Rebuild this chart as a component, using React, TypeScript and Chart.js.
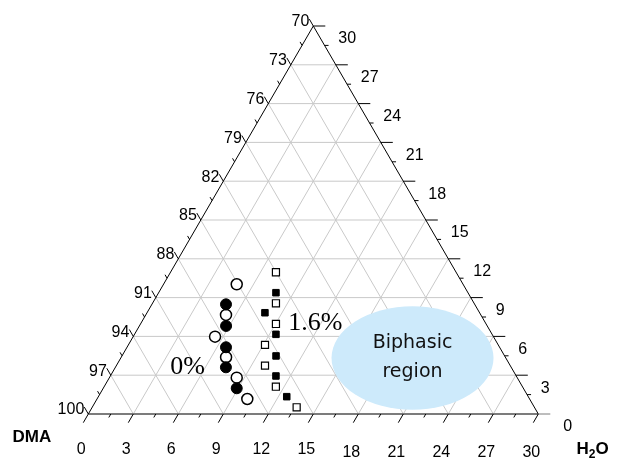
import { useEffect, useRef } from "react";
import { Chart, registerables } from "chart.js";

Chart.register(...registerables);

// Ternary axes: H2O along the bottom, DMA on the left edge, third component on the right edge
const h2oTicks = [0, 3, 6, 9, 12, 15, 18, 21, 24, 27, 30];
const dmaTicks = [100, 97, 94, 91, 88, 85, 82, 79, 76, 73, 70];
const rightTicks = [0, 3, 6, 9, 12, 15, 18, 21, 24, 27, 30];

// 0% series (circles): H2O (bottom) and right-axis component values
const zeroFilledH = [4.94, 5.78, 6.6, 7.37, 8.9];
const zeroFilledT = [8.48, 6.81, 5.16, 3.61, 1.99];
const zeroOpenH = [4.88, 5.35, 5.46, 6.99, 8.49, 10.02];
const zeroOpenT = [10.03, 7.66, 5.98, 4.39, 2.81, 1.16];

// 1.6% series (squares)
const pctFilledH = [7.82, 7.86, 9.43, 10.27, 11.04, 12.56];
const pctFilledT = [9.38, 7.83, 6.16, 4.49, 2.94, 1.34];
const pctOpenH = [7.03, 8.23, 9.03, 9.11, 9.91, 11.45, 13.63];
const pctOpenT = [10.96, 8.56, 6.96, 5.34, 3.74, 2.11, 0.52];

// annotations (in H2O / right-axis units)
const zeroLabel = { text: "0%", h: 4.81, t: 3.63 };
const pctLabel = { text: "1.6%", h: 11.62, t: 7.04 };
const biphasic = { lines: ["Biphasic", "region"], h: 19.45, t: 4.33, rh: 5.4, rt: 4.0 };

const toXY = (hs: number[], ts: number[]) =>
  hs.map((h, i) => ({ x: h + ts[i] / 2, y: ts[i] }));

const ternaryPlugin = {
  id: "ternary",
  beforeDatasetsDraw(chart: any) {
    const { ctx } = chart;
    const xs = chart.scales.x;
    const ys = chart.scales.y;
    const P = (h: number, t: number) => [xs.getPixelForValue(h + t / 2), ys.getPixelForValue(t)];
    const line = (a: number[], b: number[]) => {
      ctx.beginPath();
      ctx.moveTo(a[0], a[1]);
      ctx.lineTo(b[0], b[1]);
      ctx.stroke();
    };
    ctx.save();
    // grid
    ctx.strokeStyle = "#c9c9c9";
    ctx.lineWidth = 1;
    for (const v of h2oTicks) {
      if (v === 0 || v === 30) continue;
      line(P(0, v), P(30 - v, v));
      line(P(v, 0), P(v, 30 - v));
      line(P(v, 0), P(0, v));
    }
    // biphasic region
    const c = P(biphasic.h, biphasic.t);
    const rx = xs.getPixelForValue(biphasic.rh) - xs.getPixelForValue(0);
    const ry = ys.getPixelForValue(0) - ys.getPixelForValue(biphasic.rt);
    ctx.fillStyle = "#cdeafb";
    ctx.beginPath();
    ctx.ellipse(c[0], c[1], rx, ry, 0, 0, Math.PI * 2);
    ctx.fill();
    ctx.fillStyle = "#111";
    ctx.font = '19px "Comic Sans MS", "DejaVu Sans", sans-serif';
    ctx.textAlign = "center";
    ctx.textBaseline = "middle";
    ctx.fillText(biphasic.lines[0], c[0], c[1] - 15);
    ctx.fillText(biphasic.lines[1], c[0], c[1] + 14);

    // edges
    ctx.strokeStyle = "#7c7c7c";
    ctx.lineWidth = 2;
    line(P(0, 0), P(30, 0));
    ctx.strokeStyle = "#000";
    ctx.lineWidth = 1;
    line(P(0, 0), P(0, 30));
    line(P(30, 0), P(0, 30));

    // ticks
    const dl = [-0.5, 0.866];
    const ul = [-0.5, -0.866];
    for (let k = 0; k <= 20; k++) {
      const v = k * 1.5;
      const major = k % 2 === 0;
      const len = major ? 10 : 4;
      // bottom
      let b = P(v, 0);
      ctx.strokeStyle = "#000";
      line(b, [b[0] + dl[0] * len, b[1] + dl[1] * len]);
      // left
      b = P(0, v);
      line(b, [b[0] + ul[0] * (major ? 8 : 4), b[1] + ul[1] * (major ? 8 : 4)]);
      // right
      b = P(30 - v, v);
      if (v === 0) ctx.strokeStyle = "#7c7c7c";
      line(b, [b[0] + (major ? 12 : 4), b[1]]);
    }

    // tick labels
    ctx.fillStyle = "#000";
    ctx.font = '16px "Liberation Sans", Arial, sans-serif';
    ctx.textBaseline = "middle";
    ctx.textAlign = "center";
    h2oTicks.forEach((v) => {
      const b = P(v, 0);
      ctx.fillText(String(v), b[0] - 7, b[1] + 36 + (v >= 18 ? 2.5 : 0));
    });
    ctx.textAlign = "right";
    dmaTicks.forEach((d) => {
      const b = P(0, 100 - d);
      ctx.fillText(String(d), b[0] - 4, b[1] - 4);
    });
    ctx.textAlign = "left";
    rightTicks.forEach((t) => {
      const b = P(30 - t, t);
      ctx.fillText(String(t), b[0] + 25, b[1] + 13);
    });

    // axis titles
    ctx.font = 'bold 17px "Liberation Sans", Arial, sans-serif';
    ctx.textAlign = "left";
    ctx.fillText("DMA", 12.5, 437.5);
    ctx.fillText("H", 576.5, 449);
    const hw = ctx.measureText("H").width;
    ctx.font = 'bold 12px "Liberation Sans", Arial, sans-serif';
    ctx.fillText("2", 576.5 + hw, 455);
    const sw = ctx.measureText("2").width;
    ctx.font = 'bold 17px "Liberation Sans", Arial, sans-serif';
    ctx.fillText("O", 576.5 + hw + sw, 449);

    // series annotations
    ctx.font = '26px "Liberation Serif", "Times New Roman", serif';
    ctx.textAlign = "center";
    let p = P(zeroLabel.h, zeroLabel.t);
    ctx.fillText(zeroLabel.text, p[0], p[1]);
    p = P(pctLabel.h, pctLabel.t);
    ctx.fillText(pctLabel.text, p[0], p[1]);
    ctx.restore();
  },
};

export default function App() {
  const ref = useRef<HTMLCanvasElement | null>(null);
  useEffect(() => {
    if (!ref.current) return;
    const chart = new Chart(ref.current, {
      type: "scatter",
      data: {
        datasets: [
          {
            label: "0% filled",
            data: toXY(zeroFilledH, zeroFilledT),
            pointStyle: "circle",
            pointRadius: 5.5,
            backgroundColor: "#000",
            borderColor: "#000",
            borderWidth: 1,
          },
          {
            label: "0% open",
            data: toXY(zeroOpenH, zeroOpenT),
            pointStyle: "circle",
            pointRadius: 5.5,
            backgroundColor: "#fff",
            borderColor: "#000",
            borderWidth: 1.5,
          },
          {
            label: "1.6% filled",
            data: toXY(pctFilledH, pctFilledT),
            pointStyle: "rect",
            pointRadius: 4.6,
            backgroundColor: "#000",
            borderColor: "#000",
            borderWidth: 1,
          },
          {
            label: "1.6% open",
            data: toXY(pctOpenH, pctOpenT),
            pointStyle: "rect",
            pointRadius: 5,
            backgroundColor: "#fff",
            borderColor: "#000",
            borderWidth: 1.2,
          },
        ],
      },
      options: {
        animation: false,
        responsive: false,
        events: [],
        layout: { padding: { left: 88.3, right: 78.7, top: 26, bottom: 46 } },
        scales: {
          x: { type: "linear", min: 0, max: 30, display: false },
          y: { type: "linear", min: 0, max: 30, display: false },
        },
        plugins: { legend: { display: false }, tooltip: { enabled: false } },
      },
      plugins: [ternaryPlugin],
    });
    return () => chart.destroy();
  }, []);
  return (
    <div style={{ position: "fixed", left: 0, top: 0, width: 617, height: 460, background: "#fff" }}>
      <canvas ref={ref} width={617} height={460} style={{ display: "block" }} />
    </div>
  );
}
